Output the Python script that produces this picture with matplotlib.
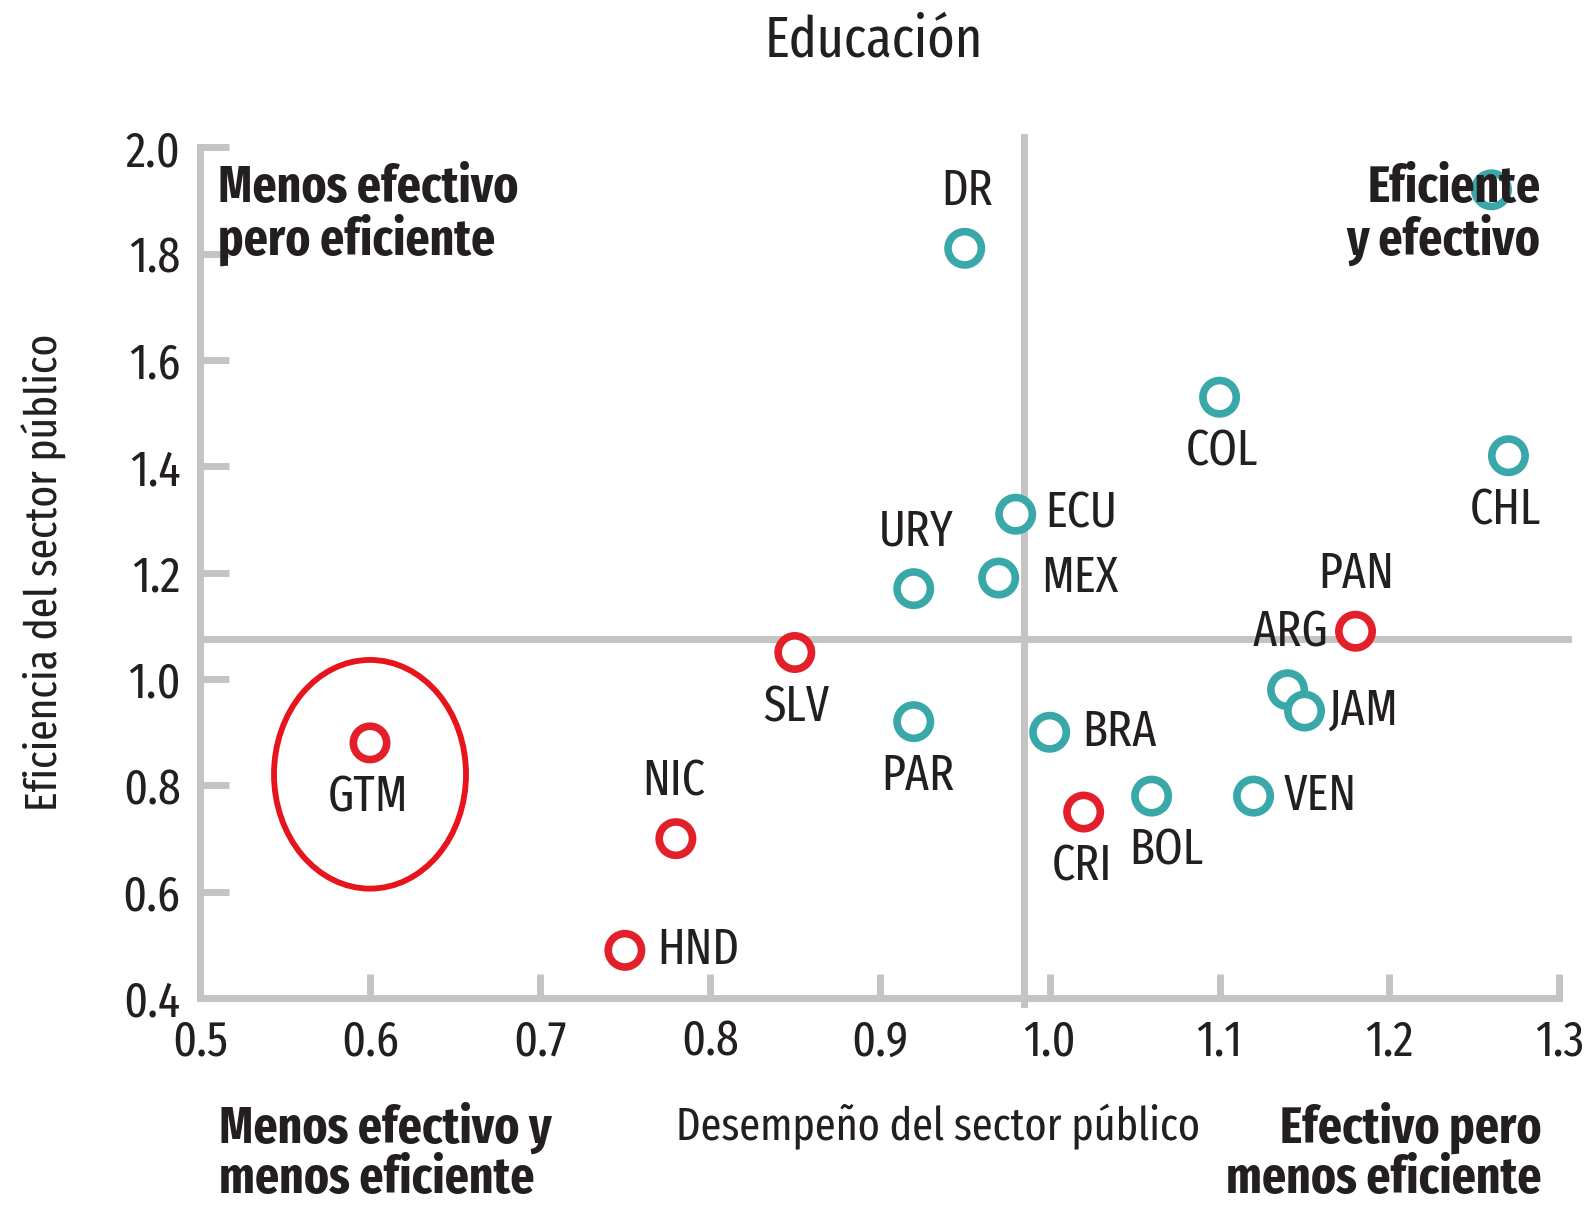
import matplotlib
matplotlib.use("Agg")
import matplotlib.pyplot as plt
from matplotlib.patches import Ellipse

FONT = ["Fira Sans Extra Condensed", "DejaVu Sans"]
plt.rcParams["font.family"] = FONT

INK = "#231f20"; GRAY = "#c4c4c4"; TEAL = "#3aa8a8"; RED = "#e3202a"

# data
countries = ["DR", "", "COL", "CHL", "ECU", "MEX", "URY", "PAN", "ARG", "JAM",
             "SLV", "PAR", "BRA", "GTM", "NIC", "CRI", "BOL", "VEN", "HND"]
desempeno = [0.95, 1.26, 1.10, 1.27, 0.98, 0.97, 0.92, 1.18, 1.14, 1.15,
             0.85, 0.92, 1.00, 0.60, 0.78, 1.02, 1.06, 1.12, 0.75]
eficiencia = [1.81, 1.92, 1.53, 1.42, 1.31, 1.19, 1.17, 1.09, 0.98, 0.94,
              1.05, 0.92, 0.90, 0.88, 0.70, 0.75, 0.78, 0.78, 0.49]
grupo = ["t", "t", "t", "t", "t", "t", "t", "r", "t", "t",
         "r", "t", "t", "r", "r", "r", "t", "t", "r"]
x_ticks = [0.5, 0.6, 0.7, 0.8, 0.9, 1.0, 1.1, 1.2, 1.3]
y_ticks = [0.4, 0.6, 0.8, 1.0, 1.2, 1.4, 1.6, 1.8, 2.0]
x_median = 0.985
y_median = 1.075

# label placement (pixel offsets from the marker)
place = {"DR": ("above", 2), "COL": ("below", 2), "CHL": ("below", -3),
         "ECU": ("right", 30), "MEX": ("right", 42), "URY": ("above", 2),
         "PAN": ("above", 1), "ARG": ("above", 3), "JAM": ("right", 24),
         "SLV": ("below", 2), "PAR": ("below", 4), "BRA": ("right", 33),
         "GTM": ("below", -2), "NIC": ("above", -2), "CRI": ("below", -2),
         "BOL": ("below", 15), "VEN": ("right", 30), "HND": ("right", 32)}

fig = plt.figure(figsize=(15.88, 12.07), dpi=100)
ax = fig.add_axes([0.126, 0.173, 0.856, 0.705])
ax.set_xlim(0.5, 1.3); ax.set_ylim(0.4, 2.0)

for s in ["top", "right"]:
    ax.spines[s].set_visible(False)
for s in ["left", "bottom"]:
    ax.spines[s].set_color(GRAY); ax.spines[s].set_linewidth(5)
ax.set_xticks(x_ticks); ax.set_yticks(y_ticks)
ax.set_xticklabels([f"{v:.1f}" for v in x_ticks])
ax.set_yticklabels([f"{v:.1f}" for v in y_ticks])
ax.tick_params(axis="y", direction="in", length=21, width=5, color=GRAY,
               labelsize=36, labelcolor=INK, pad=14)
ax.tick_params(axis="x", direction="in", length=17, width=5, color=GRAY,
               labelsize=36, labelcolor=INK, pad=14)

# median lines
ax.plot([x_median, x_median], [0.39, 2.02], color=GRAY, lw=5, clip_on=False, zorder=1)
ax.plot([0.5, 1.305], [y_median, y_median], color=GRAY, lw=5, clip_on=False, zorder=1)

cols = [TEAL if g == "t" else RED for g in grupo]
ax.scatter(desempeno, eficiencia, s=24**2, facecolors="white", edgecolors=cols,
           linewidths=5.5, zorder=4, clip_on=False)

for name, x, y in zip(countries, desempeno, eficiencia):
    if not name:
        continue
    where, dx = place[name]
    if where == "above":
        xy, ha, va = (dx, 57), "center", "center"
    elif where == "below":
        xy, ha, va = (dx, -55), "center", "center"
    else:
        xy, ha, va = (dx, 0), "left", "center"
    ax.annotate(name, (x, y), xytext=xy, textcoords="offset pixels",
                ha=ha, va=va, fontsize=36, color=INK, zorder=5)

# highlight around GTM
ax.add_patch(Ellipse((0.6, 0.821), 0.113, 0.43, fill=False, edgecolor="#e8141c",
                     lw=4.2, zorder=6))

# quadrant labels
qkw = dict(fontsize=37, fontweight="bold", color=INK, linespacing=1.02)
ax.text(0.013, 0.981, "Menos efectivo\npero eficiente", transform=ax.transAxes,
        ha="left", va="top", zorder=5, **qkw)
ax.text(0.986, 0.981, "Eficiente\ny efectivo", transform=ax.transAxes,
        ha="right", va="top", multialignment="right", zorder=5, **qkw)
fig.text(0.138, 0.087, "Menos efectivo y\nmenos eficiente", ha="left", va="top", **qkw)
fig.text(0.971, 0.087, "Efectivo pero\nmenos eficiente", ha="right", va="top",
         multialignment="right", **qkw)

fig.text(0.591, 0.066, "Desempeño del sector público", ha="center", va="center",
         fontsize=33, color=INK)
fig.text(0.028, 0.526, "Eficiencia del sector público", ha="center", va="center",
         rotation=90, fontsize=32.5, color=INK)
fig.text(0.550, 0.966, "Educación", ha="center", va="center", fontsize=41, color=INK)

fig.savefig("out.png", dpi=100, facecolor="white")
